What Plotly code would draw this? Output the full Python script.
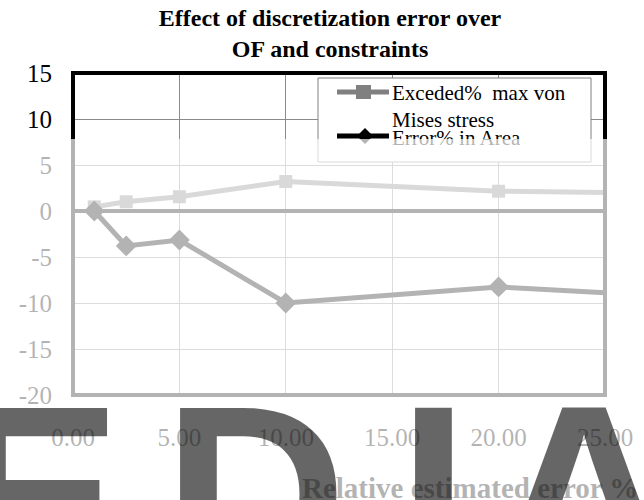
import plotly.graph_objects as go

# ---- data ----
rel_error = [1.0, 2.5, 5.0, 10.0, 20.0, 25.4]
exceeded_vm = [0.45, 1.0, 1.55, 3.2, 2.15, 2.0]
error_area = [0.0, -3.8, -3.15, -10.0, -8.25, -8.95]
series_names = ["Exceded%\u00a0 max von<br>Mises stress", "Error% in Area"]
y_ticks = [-20, -15, -10, -5, 0, 5, 10, 15]
y_ticktext = ["-20", "-15", "-10", "-5", "0", "5", "10", "15"]
x_ticks = [0, 5, 10, 15, 20, 25]
title_text = "Effect of discretization error over<br>OF and constraints"
x_title = "Relative estimated error %"
watermark = ["E", "D", "I", "A"]

# ---- geometry (pixels) ----
W, H = 644, 500
L, R, T, B = 73, 605, 73, 395
PW, PH = R - L, B - T


def px(x):
    return (x - L) / PW


def py(y):
    return (B - y) / PH


SERIF = "Liberation Serif"
GREY = "#808080"

fig = go.Figure()
fig.add_trace(go.Scatter(
    x=rel_error, y=exceeded_vm, mode="lines+markers", name=series_names[0],
    line=dict(color=GREY, width=5),
    marker=dict(symbol="square", size=13, color=GREY),
    showlegend=False,
))
fig.add_trace(go.Scatter(
    x=rel_error, y=error_area, mode="lines+markers", name=series_names[1],
    line=dict(color="black", width=5),
    marker=dict(symbol="diamond", size=16, color="black"),
    showlegend=False,
))

shapes = []
# plot border
shapes.append(dict(type="rect", xref="paper", yref="paper", x0=0, x1=1, y0=0, y1=1,
                   line=dict(color="black", width=4), layer="above"))
# legend box
shapes.append(dict(type="rect", xref="paper", yref="paper",
                   x0=px(318), x1=px(591), y0=py(162), y1=py(78),
                   line=dict(color=GREY, width=1), fillcolor="white", layer="above"))
# legend sample 1
shapes.append(dict(type="line", xref="paper", yref="paper",
                   x0=px(337), x1=px(389), y0=py(92), y1=py(92),
                   line=dict(color=GREY, width=5), layer="above"))
shapes.append(dict(type="rect", xref="paper", yref="paper",
                   x0=px(356), x1=px(371), y0=py(99), y1=py(85),
                   line=dict(width=0), fillcolor=GREY, layer="above"))
# legend sample 2
shapes.append(dict(type="line", xref="paper", yref="paper",
                   x0=px(337), x1=px(389), y0=py(136), y1=py(136),
                   line=dict(color="black", width=5), layer="above"))
cx, cy, d = 365, 136, 8
shapes.append(dict(type="path", xref="paper", yref="paper",
                   path=f"M {px(cx - d)} {py(cy)} L {px(cx)} {py(cy - d)} L {px(cx + d)} {py(cy)} L {px(cx)} {py(cy + d)} Z",
                   line=dict(width=0), fillcolor="black", layer="above"))

annotations = []
# axis title
annotations.append(dict(text="<b>" + x_title + "</b>", xref="paper", yref="paper",
                        x=px(640), y=py(488), xanchor="right", yanchor="middle",
                        showarrow=False, font=dict(family=SERIF, size=29, color="black")))
# legend texts
annotations.append(dict(text=series_names[0], xref="paper", yref="paper",
                        x=px(390), y=py(106.5), xanchor="left", yanchor="middle", align="left",
                        showarrow=False, font=dict(family=SERIF, size=21, color="black")))
annotations.append(dict(text=series_names[1], xref="paper", yref="paper",
                        x=px(390), y=py(138), xanchor="left", yanchor="middle", align="left",
                        showarrow=False, font=dict(family=SERIF, size=21, color="black")))
# fade overlay over the lower part of the picture
annotations.append(dict(text=" ", xref="paper", yref="paper",
                        x=px(0), y=py(139), xanchor="left", yanchor="top",
                        width=W, height=H - 139, borderpad=0, borderwidth=0,
                        bgcolor="rgba(255,255,255,0.7)", showarrow=False))
# watermark letters
wm_left = [-50, 161, 396, 490]
for ch, xl in zip(watermark, wm_left):
    annotations.append(dict(text="<b>" + ch + "</b>", xref="paper", yref="paper",
                            x=px(xl), y=py(350), xanchor="left", yanchor="top",
                            showarrow=False,
                            font=dict(family="Liberation Sans", size=255,
                                      color="rgba(0,0,0,0.6)")))

fig.update_layout(
    width=W, height=H,
    margin=dict(l=L, r=W - R, t=T, b=H - B, pad=0),
    paper_bgcolor="white", plot_bgcolor="white",
    title=dict(text="<b>" + title_text + "</b>", xref="container", yref="container",
               x=330 / W, xanchor="center", y=1 - 26 / H, yanchor="top",
               font=dict(family=SERIF, size=24, color="black")),
    xaxis=dict(range=[0, 25], tickvals=x_ticks, tickformat=".2f",
               showgrid=True, gridcolor="#8a8a8a", gridwidth=1,
               zeroline=False, showline=False, ticks="",
               ticklabelstandoff=25,
               tickfont=dict(family=SERIF, size=25, color="black")),
    yaxis=dict(range=[-20, 15], tickvals=y_ticks, ticktext=y_ticktext,
               showgrid=True, gridcolor="#8a8a8a", gridwidth=1,
               zeroline=True, zerolinecolor="black", zerolinewidth=4,
               showline=False, ticks="", ticklabelstandoff=20,
               tickfont=dict(family=SERIF, size=25, color="black")),
    shapes=shapes,
    annotations=annotations,
    showlegend=False,
)

fig.write_html("out.html", config={"displayModeBar": False},
               post_script="document.body.style.margin='0px';")
